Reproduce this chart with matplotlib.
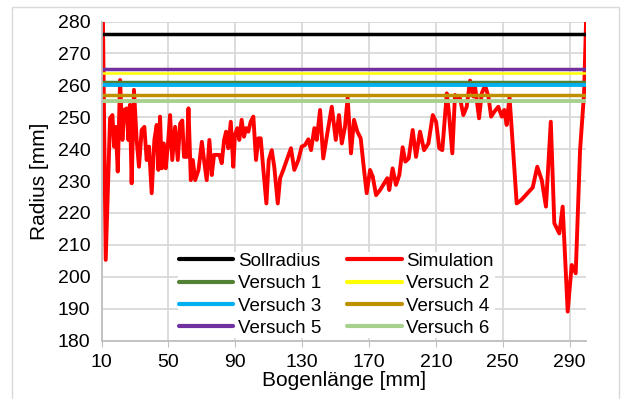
import matplotlib
matplotlib.use("Agg")
import matplotlib.pyplot as plt
from matplotlib.patches import Rectangle

plt.rcParams['font.family'] = ['Liberation Sans', 'DejaVu Sans']

# target radii of the test runs [mm]
soll_radius = 276
versuch_radius = [261, 264, 260, 257, 265, 255]
versuch_labels = ["Versuch 1", "Versuch 2", "Versuch 3", "Versuch 4", "Versuch 5", "Versuch 6"]
versuch_colors = ["#548235", "#FFFF00", "#00B0F0", "#BF9000", "#7030A0", "#A9D18E"]

# simulated radius along the arc length
sim_s = [10, 12.5, 15.1, 16.5, 17.5, 18.5, 19.7, 21.1, 22.5, 23.6, 25.1, 26, 27, 28, 29.4,
         31, 32.4, 34, 35.6, 37, 38.4, 40, 41.6, 43, 44, 45, 46, 47.2, 48.4, 49.6, 51,
         52.3, 54, 55.6, 57, 58.3, 59.3, 61, 62, 63.4, 64.6, 66, 68, 70, 71.3, 72.9, 74.5,
         75.9, 77.3, 78.9, 80.5, 81.9, 83.3, 84.5, 85.8, 87.3, 88.8, 89.8, 91.2, 92.4,
         93.8, 95.2, 96.5, 97.8, 99.2, 100.8, 102.4, 103.8, 105.2, 106.8, 108.6, 110,
         111.8, 113.3, 115.4, 116.8, 118.7, 120.8, 123.3, 125.3, 127.7, 129.7, 131.7,
         133.7, 135.3, 137.3, 138.7, 140.7, 142.6, 144.7, 147.7, 150.1, 152, 153.7, 155.6,
         157.2, 159.2, 161, 163, 165, 167, 168.6, 170.6, 172.2, 174.2, 176.6, 179, 180.9,
         182.1, 184.1, 186.1, 188.1, 190.1, 191.7, 193.7, 196.1, 198.1, 200.5, 202.9,
         205.5, 208.1, 210.1, 212, 213.8, 216.5, 217.8, 219.8, 221.4, 223.1, 224.4, 226.4,
         228.4, 230.4, 232.4, 233.4, 235.8, 237.4, 239.4, 241.4, 243, 245, 247.3, 249.4,
         250.9, 252.3, 254, 258.3, 260.9, 267.9, 270.6, 273.3, 275.8, 278.7, 280.8, 283.8,
         285.8, 288.8, 291.2, 293.6, 296.2, 298.6, 300]
sim_r = [318, 205.3, 249.7, 250.7, 240.8, 247, 233, 261.7, 242.9, 252.3, 252.8, 242.9, 253.9,
         229.3, 258.6, 242.9, 234.5, 246, 247, 236.6, 240.8, 226.2, 242.9, 247.6, 233.5,
         250.2, 234, 241.8, 234, 240.8, 250.7, 236.6, 247, 236.6, 248, 249, 237.6, 237.6,
         252.8, 230.3, 236.6, 230.3, 233.5, 242.3, 236.6, 230.3, 242.9, 231.9, 238.2,
         238.2, 238.2, 235.6, 242.9, 245.5, 240.3, 248.6, 234.5, 244.5, 246.6, 242.9,
         249.2, 243.9, 246.6, 245.5, 248.6, 250.2, 236.6, 243.4, 243.4, 233.5, 223, 236.6,
         239.7, 234.5, 223, 230.9, 233.5, 236.6, 240.3, 233.5, 236.6, 240.8, 241.3, 243.1,
         239.7, 246.6, 242.9, 252.3, 237.1, 243.9, 253.3, 242.9, 250.7, 241.8, 247, 256.2,
         238.7, 249.2, 245.5, 243.4, 233.5, 226.2, 233.5, 231.4, 225.6, 227.2, 229.3, 230.9,
         227.2, 234, 228.8, 231.9, 240.6, 236.1, 237.1, 246, 237.6, 245.5, 239.7, 241.8,
         250.7, 248.6, 240.3, 239.7, 257.5, 251.2, 238.7, 257, 255.4, 256, 250.7, 253.3,
         261.5, 256.5, 259.6, 249.7, 257.5, 260, 256.5, 250.2, 251.8, 253.3, 250.2, 252.3,
         247.6, 256.5, 223, 224, 228, 234.5, 230.3, 222, 248.6, 216.8, 213.6, 222, 189.1,
         203.7, 201.1, 239.7, 257.5, 284]

x_ticks = [10, 50, 90, 130, 170, 210, 250, 290]
y_ticks = [180, 190, 200, 210, 220, 230, 240, 250, 260, 270, 280]

fig = plt.figure(figsize=(6.21, 3.99), dpi=100)
fig.patches.append(Rectangle((12 / 621, -0.01), 607 / 621, 1 - 7 / 399 + 0.01,
                             transform=fig.transFigure, fill=False,
                             edgecolor="#d9d9d9", linewidth=1.0))
ax = fig.add_axes([0.1635, 0.1464, 0.7808, 0.7995])

h_soll, = ax.plot([x_ticks[0], 300], [soll_radius, soll_radius], color="black", lw=2.5,
                  solid_capstyle="butt", zorder=3)
h_sim, = ax.plot(sim_s, sim_r, color="#FF0000", lw=2.8, zorder=2)
h_v = []
for r, c, lab in zip(versuch_radius, versuch_colors, versuch_labels):
    h, = ax.plot([x_ticks[0], 300], [r, r], color=c, lw=2.5, label=lab,
                 solid_capstyle="butt", zorder=3)
    h_v.append(h)
h_v[1].set_linewidth(1.8)
h_v[2].set_linewidth(2.8)
h_v[5].set_linewidth(2.8)

ax.set_xlim(10, 300)
ax.set_ylim(180, 280)
ax.set_xticks(x_ticks)
ax.set_yticks(y_ticks)
ax.grid(True, color="#d9d9d9", lw=1.3)
ax.set_axisbelow(True)
for side in ["top", "right"]:
    ax.spines[side].set_visible(False)
for side in ["left", "bottom"]:
    ax.spines[side].set_color("#bfbfbf")
    ax.spines[side].set_linewidth(1.3)
    ax.spines[side].set_zorder(6)
ax.tick_params(axis="x", length=4, color="#bfbfbf", labelsize=14, pad=6)
ax.tick_params(axis="y", length=0, labelsize=14, pad=8)
ax.set_xlabel("Bogenlänge [mm]", fontsize=15, labelpad=0)
ax.set_ylabel("Radius [mm]", fontsize=15, labelpad=6)

# legend filled column-wise: left column Sollradius/V1/V3/V5, right column Simulation/V2/V4/V6
handles = [h_soll, h_v[0], h_v[2], h_v[4], h_sim, h_v[1], h_v[3], h_v[5]]
labels = ["Sollradius", "Versuch 1", "Versuch 3", "Versuch 5",
          "Simulation", "Versuch 2", "Versuch 4", "Versuch 6"]
leg = ax.legend(handles, labels, ncol=2, loc="lower center", bbox_to_anchor=(0.484, -0.021),
                fontsize=13.5, handlelength=2.9, handletextpad=0.25, columnspacing=1.4,
                labelspacing=0.28, borderpad=0.05, frameon=True, fancybox=False,
                edgecolor="none", facecolor="white", framealpha=1.0)
for line in leg.get_lines():
    line.set_linewidth(3)
    line.set_solid_capstyle("round")
leg.set_zorder(5)

fig.savefig("out.png", dpi=100)
